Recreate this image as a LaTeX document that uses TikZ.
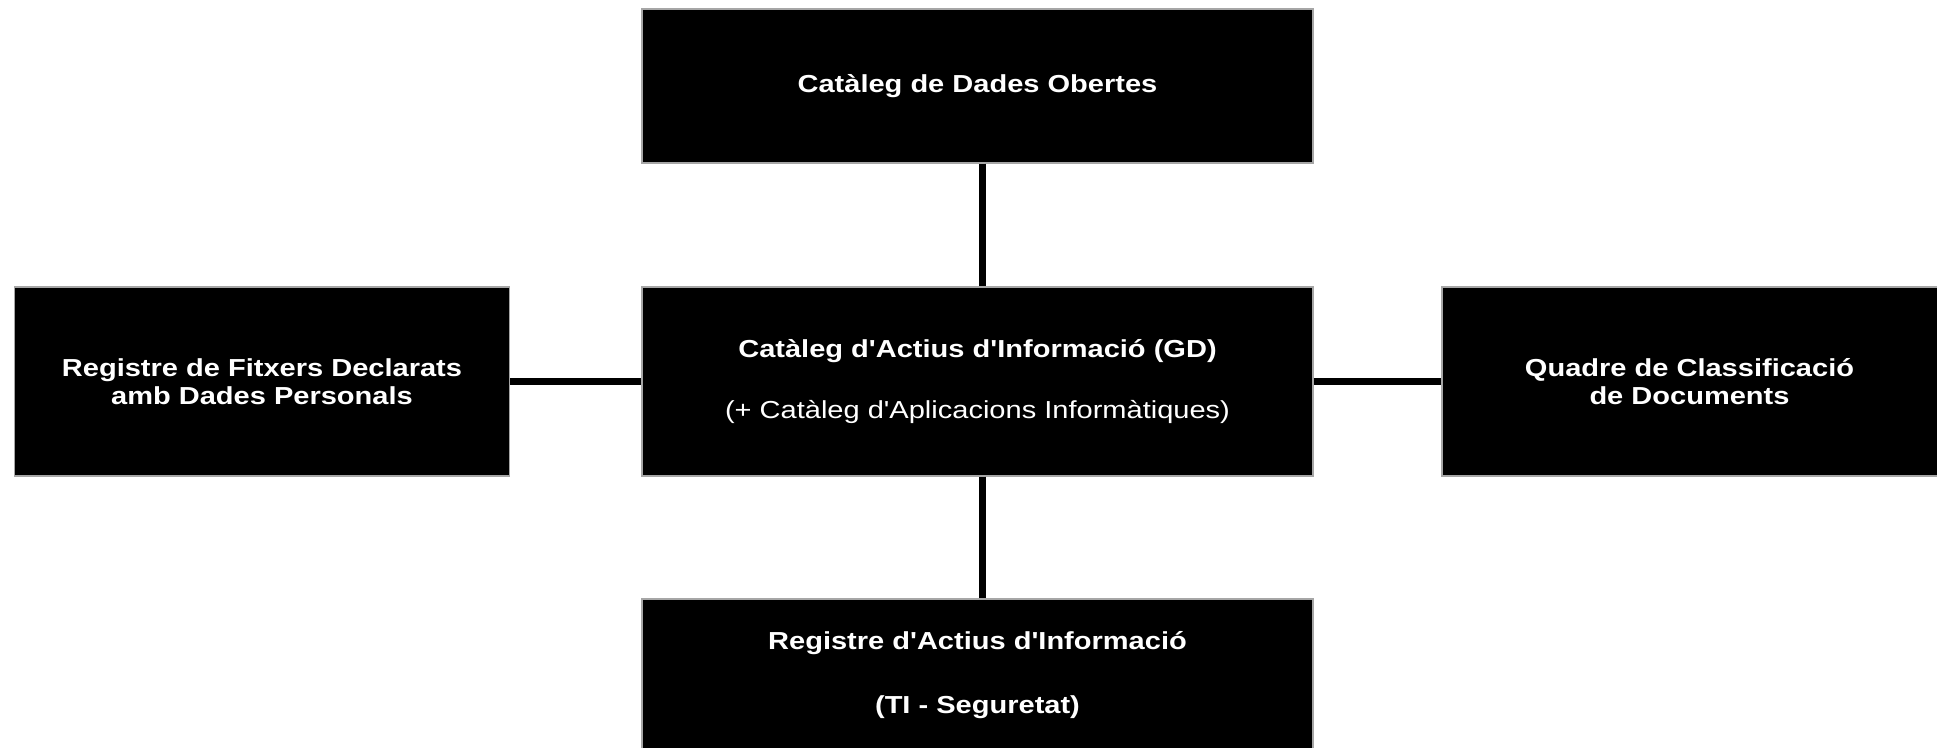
\documentclass[tikz,border=0pt]{standalone}
\usepackage{fontspec}
\setmainfont[FakeStretch=1.18, Ligatures=TeXOff]{Liberation Sans}
\usepackage{tikz}
\tikzstyle{CatNode}=[rectangle, fill=black, draw=gray!70, line width=0.3pt, text=white, font=\fontsize{7pt}{8.07pt}\selectfont\bfseries, align=center, inner sep=0pt]
\tikzstyle{WideNode}=[CatNode, minimum width=6.71cm]
\tikzstyle{SideNode}=[CatNode, minimum width=4.95cm, minimum height=1.89cm]
\tikzstyle{LinkEdge}=[line width=2pt, black]

\begin{document}
\begin{tikzpicture}
\useasboundingbox (0,0) rectangle (19.37,-7.47);

\node[WideNode, minimum height=1.54cm](CatDO) at (9.775,-0.86) {Catàleg de Dades Obertes};
\node[WideNode, minimum height=1.89cm](CatAI) at (9.775,-3.815) {Catàleg d'Actius d'Informació (GD)\\[9.5pt]{\mdseries (+ Catàleg d'Aplicacions Informàtiques)}};
\node[SideNode](RegFit) at (2.62,-3.815) {Registre de Fitxers Declarats\\amb Dades Personals};
\node[SideNode](QuadCl) at (16.895,-3.815) {Quadre de Classificació\\de Documents};
\node[WideNode, minimum height=1.52cm](RegAI) at (9.775,-6.75) {Registre d'Actius d'Informació\\[10pt](TI - Seguretat)};

\draw[LinkEdge]([xshift=0.05cm]CatDO.south) -- ([xshift=0.05cm]CatAI.north);
\draw[LinkEdge]([xshift=0.05cm]CatAI.south) -- ([xshift=0.05cm]RegAI.north);
\draw[LinkEdge](RegFit) -- (CatAI);
\draw[LinkEdge](CatAI) -- (QuadCl);
\end{tikzpicture}
\end{document}
